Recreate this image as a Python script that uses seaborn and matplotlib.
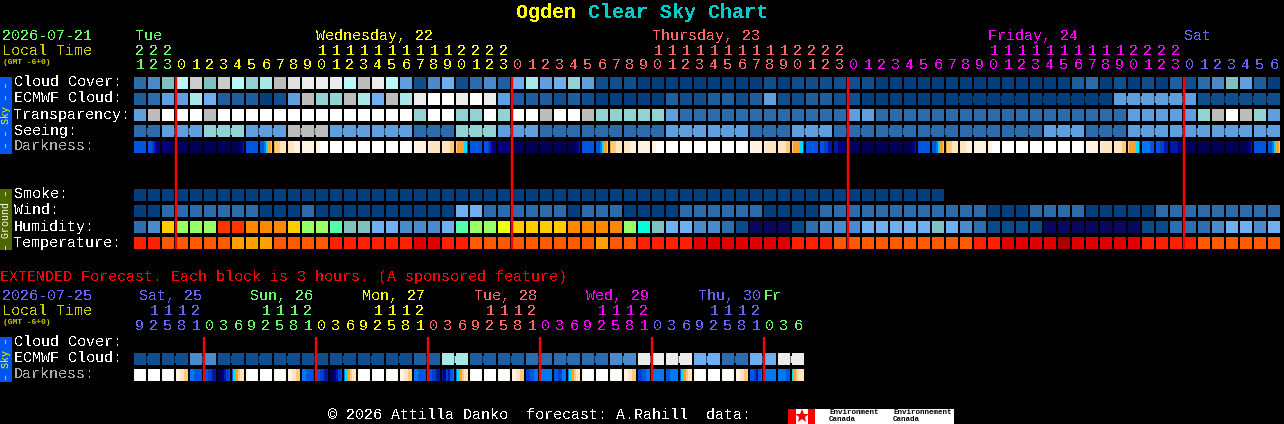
"""Ogden clear sky chart, redrawn as one seaborn heatmap per row."""

import numpy as np
import matplotlib
matplotlib.use("Agg")
import matplotlib.pyplot as plt
from matplotlib.colors import ListedColormap
from matplotlib.patches import Rectangle
import seaborn as sns

W, H = 1284, 424
DPI = 100
PX = 72 / DPI          # one pixel in points
X0 = 133               # left edge of the first cell, gap included
PITCH = 14
FONT = "Liberation Mono"

# colour scales, each row stores indices into one of these
SKY_LEVELS = ["#033e7e", "#104e8e", "#1e5e9e", "#2c6bac", "#4b8bcb", "#5f9fdf",
              "#6fafef", "#80c0c0", "#92d2d2", "#a8e8e8", "#b8f8f8", "#bcbcbc",
              "#cccccc", "#e0e0e0", "#ececec", "#ffffff"]
HUMIDITY_LEVELS = ["#080860", "#0a4a8a", "#2e6eae", "#4b8bcb", "#70b0f0", "#80c0c0",
                   "#55ffaa", "#00ffdd", "#99ff66", "#eeff11", "#ffcc00", "#ff8800",
                   "#ff3300"]
TEMP_LEVELS = ["#aa0000", "#e00000", "#ff2000", "#ff5a00", "#ffa000"]
DARK_LEVELS = ["#000048", "#000058", "#000080", "#0018a8", "#0040d0", "#0056e0",
               "#0078f0", "#00e0ff", "#ffa030", "#ffc880", "#ffe4c0", "#fff2e0",
               "#ffffff"]
# the day colours repeat every five days
DAY_COLORS = ["#66ff66", "#ffff00", "#ff6666", "#ff00ff", "#6666ff"]

# --- hourly block
HOURS = [21, 22, 23] + list(range(24)) * 3 + [0, 1, 2, 3, 4, 5, 6]
FIRST_DAY = 0
DAY_LABELS = [(135, "Tue", 0), (316, "Wednesday, 22", 1), (652, "Thursday, 23", 2),
              (988, "Friday, 24", 3), (1184, "Sat", 4)]

CLOUD_COVER = [3, 4, 7, 10, 12, 7, 12, 10, 8, 9,
               11, 13, 14, 14, 14, 10, 11, 14, 10, 5,
               1, 4, 6, 1, 3, 4, 2, 6, 9, 5,
               6, 8, 5, 1, 1, 1, 0, 0, 0, 0,
               0, 0, 0, 0, 0, 1, 0, 1, 1, 1,
               1, 1, 1, 0, 0, 0, 0, 0, 0, 0,
               0, 0, 0, 0, 0, 0, 0, 2, 3, 0,
               1, 0, 1, 0, 2, 1, 3, 4, 7, 5,
               2, 0]
ECMWF_CLOUD = [2, 3, 5, 5, 9, 6, 2, 2, 2, 0,
               1, 5, 11, 8, 8, 11, 9, 6, 11, 9,
               14, 15, 15, 14, 15, 14, 5, 2, 2, 2,
               1, 2, 1, 0, 0, 0, 0, 0, 2, 1,
               1, 2, 2, 1, 2, 5, 1, 1, 2, 2,
               1, 1, 0, 0, 0, 0, 0, 0, 0, 0,
               0, 0, 0, 0, 0, 0, 0, 0, 0, 0,
               5, 5, 5, 5, 5, 5, 1, 1, 1, 1,
               1, 1]
TRANSPARENCY = [5, 11, 15, 15, 15, 11, 15, 15, 15, 15,
                15, 15, 15, 15, 15, 15, 15, 15, 15, 15,
                8, 15, 15, 8, 8, 15, 8, 15, 15, 11,
                15, 15, 11, 8, 8, 8, 8, 8, 5, 3,
                3, 3, 3, 3, 3, 3, 3, 3, 3, 3,
                3, 5, 5, 3, 3, 3, 3, 3, 3, 3,
                3, 3, 3, 3, 3, 3, 3, 3, 3, 3,
                3, 5, 5, 5, 5, 5, 8, 11, 15, 11,
                8, 5]
SEEING = [3, 3, 5, 5, 5, 8, 8, 8, 5, 5, 5, 11, 11, 11, 5, 5, 5, 5, 5, 5,
          3, 3, 3, 8, 8, 8, 5, 5, 5, 3, 3, 3, 3, 3, 3, 3, 3, 3, 5, 5, 5,
          5, 5, 5, 3, 3, 3, 5, 5, 5, 3, 3, 3, 3, 3, 3, 3, 3, 3, 3, 3, 3,
          3, 3, 3, 5, 5, 5, 3, 3, 3, 5, 5, 5, 5, 5, 5, 5, 5, 5, 5, 5]
DARKNESS = ["555555", "554322", "222211", "111111", "111111", "111111", "111111", "111123",
            "555555", "556789", "899aaa", "aaabbb", "bbbbbb", "bbcccc", "cccccc", "cccccc",
            "cccccc", "cccccc", "cccccc", "cccccb", "cbbbbb", "baaaaa", "aaaa99", "988875",
            "555555", "554322", "222222", "111111", "111111", "111111", "111111", "111123",
            "555555", "556789", "899aaa", "aaabbb", "bbbbbb", "bbcccc", "cccccc", "cccccc",
            "cccccc", "cccccc", "cccccc", "cccccb", "cbbbbb", "baaaaa", "aaaa99", "988875",
            "555555", "554433", "332222", "111111", "111111", "111111", "111111", "111123",
            "555555", "556789", "899aaa", "aaabbb", "bbbbbb", "bbcccc", "cccccc", "cccccc",
            "cccccc", "cccccc", "cccccc", "cccccb", "cbbbbb", "baaaaa", "aaaa99", "988875",
            "666655", "554433", "333322", "211111", "111111", "111111", "111111", "111123",
            "555555", "556789"]
SMOKE = [0] * 58
WIND = [0, 0, 3, 3, 3, 3, 3, 3, 3, 0,
        0, 0, 3, 0, 0, 0, 0, 0, 0, 0,
        0, 0, 0, 6, 6, 3, 3, 3, 3, 3,
        3, 0, 3, 3, 3, 0, 0, 0, 0, 3,
        3, 3, 3, 3, 3, 0, 0, 0, 0, 3,
        3, 3, 3, 3, 3, 3, 3, 3, 3, 3,
        3, 0, 0, 0, 3, 3, 3, 3, 0, 0,
        0, 0, 0, 3, 3, 3, 3, 3, 3, 3,
        3, 3]
HUMIDITY = [2, 3, 10, 8, 8, 8, 12, 12, 11, 11,
            11, 10, 8, 8, 6, 5, 5, 4, 4, 3,
            3, 3, 4, 6, 8, 8, 9, 10, 10, 10,
            10, 11, 11, 11, 11, 8, 7, 5, 4, 4,
            3, 3, 2, 1, 0, 0, 0, 1, 2, 3,
            3, 3, 4, 4, 4, 4, 4, 5, 4, 3,
            2, 1, 1, 1, 1, 0, 0, 0, 0, 0,
            0, 0, 1, 1, 2, 2, 2, 3, 4, 4,
            3, 4]
TEMPERATURE = [2, 2, 3, 3, 3, 3, 3, 4, 4, 4,
               3, 3, 3, 3, 2, 2, 2, 2, 2, 2,
               1, 1, 2, 2, 3, 3, 3, 3, 3, 3,
               3, 3, 3, 4, 3, 3, 2, 2, 2, 2,
               1, 1, 1, 1, 1, 1, 1, 2, 2, 2,
               3, 3, 3, 3, 3, 3, 3, 3, 3, 3,
               2, 2, 1, 1, 1, 1, 0, 1, 1, 1,
               1, 1, 2, 2, 2, 2, 3, 3, 3, 3,
               3, 3]

# --- extended block, one cell per 3 hours
EXT_HOURS = [9, 12, 15, 18, 21] + [0, 3, 6, 9, 12, 15, 18, 21] * 5 + [0, 3, 6]
EXT_FIRST_DAY = 4
EXT_DAY_LABELS = [(139, "Sat, 25", 4), (250, "Sun, 26", 0), (362, "Mon, 27", 1),
                  (474, "Tue, 28", 2), (586, "Wed, 29", 3), (698, "Thu, 30", 4),
                  (764, "Fr", 0)]
EXT_ECMWF = [1, 1, 1, 1, 4, 4, 1, 1, 1, 1, 1, 1, 1, 1, 1, 1, 1, 1, 1, 1, 2, 2, 9, 9,
             2, 2, 2, 2, 3, 3, 3, 3, 3, 3, 4, 4, 14, 14, 14, 14, 6, 6, 3, 3, 6, 6, 14, 14]
EXT_DARKNESS = ["bccccb", "cccccc", "bccccc", "bbaa99", "665555", "554433", "012345", "5789aa",
                "bccccb", "cccccc", "bccccb", "bbaa99", "665554", "554433", "012345", "6789aa",
                "bccccb", "cccccc", "bccccb", "bbaa99", "665555", "554433", "324356", "6789aa",
                "bccccb", "cccccc", "bccccb", "bbaa99", "445566", "666666", "554466", "6789aa",
                "bccccb", "cccccc", "bccccb", "bbaa99", "445566", "666666", "556666", "5789aa",
                "bccccb", "cccccc", "bccccb", "bbaa99", "554356", "666666", "666655", "789aaa"]


def row_axes(fig, y, n):
    # y is the top of the visible cell, the axes keep 1px of gap on each side
    ax = fig.add_axes([X0 / W, 1 - (y + 13) / H, n * PITCH / W, 14 / H])
    ax.set_facecolor("black")
    return ax


def draw_row(fig, y, values, levels):
    ax = row_axes(fig, y, len(values))
    sns.heatmap([values], ax=ax, cmap=ListedColormap(levels), vmin=-0.5,
                vmax=len(levels) - 0.5, cbar=False, linewidths=2 * PX,
                linecolor="black", xticklabels=False, yticklabels=False)
    return ax


def link_cells(ax, values, levels, first, size):
    """Bridge the gaps inside the blocks of one forecast run."""
    for start in range(first, len(values), size):
        for i in range(max(start, 0), min(start + size, len(values)) - 1):
            ax.hlines(0.5, i + 0.9, i + 1.1, color=levels[values[i]],
                      linewidth=7 * PX, capstyle="butt")


def draw_darkness(fig, y, cells):
    samples = [int(c, 16) for cell in cells for c in cell]
    ax = row_axes(fig, y, len(cells))
    sns.heatmap([samples], ax=ax, cmap=ListedColormap(DARK_LEVELS), vmin=-0.5,
                vmax=len(DARK_LEVELS) - 0.5, cbar=False,
                xticklabels=False, yticklabels=False)
    ax.vlines(np.arange(len(cells) + 1) * 6, 0, 1, color="black",
              linewidth=2 * PX, capstyle="butt")
    ax.hlines([0, 1], 0, len(samples), color="black", linewidth=2 * PX)


def put(ax, x, y, s, color="white", size=15, aa=False, **kw):
    kw.setdefault("va", "center")
    return ax.text(x, y + 1, s, color=color, fontsize=size * PX, family=FONT,
                   antialiased=aa, **kw)


def draw_hours(ax, hours, first_day, y_tens, y_units):
    day = first_day
    for i, hour in enumerate(hours):
        if hour == 0 and i > 0:
            day += 1
        x = X0 + PITCH * (i + 0.5)
        color = DAY_COLORS[day % len(DAY_COLORS)]
        put(ax, x, y_units, str(hour % 10), color, ha="center")
        if hour >= 10:
            put(ax, x, y_tens, str(hour // 10), color, ha="center")


def draw_side(ax, y0, y1, color, text, text_color):
    ax.add_patch(Rectangle((0, y0), 12, y1 - y0, color=color, linewidth=0))
    ax.text(6, (y0 + y1) / 2, text, color=text_color, fontsize=10 * PX, family=FONT,
            ha="center", va="center", rotation=90)


fig = plt.figure(figsize=(W / DPI, H / DPI), dpi=DPI, facecolor="black")

# hourly rows
draw_row(fig, 77, CLOUD_COVER, SKY_LEVELS)
ax = draw_row(fig, 93, ECMWF_CLOUD, SKY_LEVELS)
link_cells(ax, ECMWF_CLOUD, SKY_LEVELS, 58, 6)
draw_row(fig, 109, TRANSPARENCY, SKY_LEVELS)
ax = draw_row(fig, 125, SEEING, SKY_LEVELS)
link_cells(ax, SEEING, SKY_LEVELS, -1, 3)
draw_darkness(fig, 141, DARKNESS)
draw_row(fig, 189, SMOKE, SKY_LEVELS)
draw_row(fig, 205, WIND, SKY_LEVELS)
draw_row(fig, 221, HUMIDITY, HUMIDITY_LEVELS)
draw_row(fig, 237, TEMPERATURE, TEMP_LEVELS)

# extended rows
ax = draw_row(fig, 353, EXT_ECMWF, SKY_LEVELS)
link_cells(ax, EXT_ECMWF, SKY_LEVELS, 0, 2)
draw_darkness(fig, 369, EXT_DARKNESS)

# everything else sits on a full size overlay, in reference pixels
over = fig.add_axes([0, 0, 1, 1])
over.set_xlim(0, W)
over.set_ylim(H, 0)
over.axis("off")

put(over, 516, 11, "Ogden", "#ffff00", size=20, weight="bold")
put(over, 588, 11, "Clear Sky Chart", "#00cccc", size=20, weight="bold")

put(over, 2, 35, "2026-07-21", "#66ff66")
put(over, 2, 50, "Local Time", "#cccc00")
put(over, 3, 61, "(GMT -6+0)", "#cccc00", size=8, aa=True, weight="bold")
for x, text, day in DAY_LABELS:
    put(over, x, 35, text, DAY_COLORS[day])
draw_hours(over, HOURS, FIRST_DAY, 50, 64)

for y, text, color in [(81.5, "Cloud Cover:", "white"), (97.5, "ECMWF Cloud:", "white"),
                       (113.5, "Transparency:", "white"), (129.5, "Seeing:", "white"),
                       (145.5, "Darkness:", "#aaaaaa"), (193.5, "Smoke:", "white"),
                       (209.5, "Wind:", "white"), (225.5, "Humidity:", "white"),
                       (241.5, "Temperature:", "white"), (341.5, "Cloud Cover:", "white"),
                       (357.5, "ECMWF Cloud:", "white"), (373.5, "Darkness:", "#aaaaaa")]:
    put(over, 14, y, text, color)

draw_side(over, 77, 154, "#0055ee", "\u2013 \u2013 Sky \u2013 \u2013", "#ffff00")
draw_side(over, 189, 250, "#4d6600", "\u2013 Ground \u2013", "white")
draw_side(over, 337, 382, "#0055ee", "\u2013 Sky \u2013", "#ffff00")

midnights = [i for i, hour in enumerate(HOURS) if hour == 0]
over.vlines([X0 + 1 + PITCH * i for i in midnights], 77, 249, color="#ff0000",
            linewidth=2.4 * PX)

put(over, 0, 276, "EXTENDED Forecast. Each block is 3 hours. (A sponsored feature)", "#ff0000")
put(over, 2, 295, "2026-07-25", "#6666ff")
put(over, 2, 310, "Local Time", "#cccc00")
put(over, 3, 321, "(GMT -6+0)", "#cccc00", size=8, aa=True, weight="bold")
for x, text, day in EXT_DAY_LABELS:
    put(over, x, 295, text, DAY_COLORS[day])
draw_hours(over, EXT_HOURS, EXT_FIRST_DAY, 310, 325)
ext_midnights = [i for i, hour in enumerate(EXT_HOURS) if hour == 0]
over.vlines([X0 + 1 + PITCH * i for i in ext_midnights], 337, 381, color="#ff0000",
            linewidth=2.4 * PX)

put(over, 328, 414, "\u00a9 2026 Attilla Danko  forecast: A.Rahill  data:")

# environment canada logo strip
over.add_patch(Rectangle((788, 409), 166, 15, color="white", linewidth=0))
over.add_patch(Rectangle((788, 409), 8, 15, color="#ff0000", linewidth=0))
over.add_patch(Rectangle((808, 409), 7, 15, color="#ff0000", linewidth=0))
over.plot([801.5], [416], marker="*", markersize=10, color="#ff0000", markeredgewidth=0)
for x, word in [(829, "Environment"), (893, "Environnement")]:
    put(over, x, 411, word, "black", size=7.5, aa=True, weight="bold")
    put(over, x, 418.5, "Canada", "black", size=7.5, aa=True, weight="bold")

fig.savefig("out.png", dpi=DPI, facecolor="black")
